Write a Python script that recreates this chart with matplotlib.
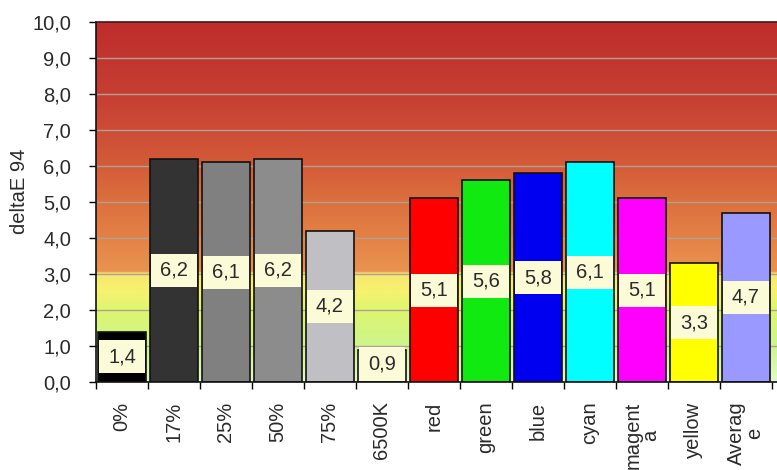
import matplotlib.pyplot as plt
import numpy as np
from matplotlib.colors import LinearSegmentedColormap
from matplotlib.patches import Rectangle

categories = ["0%", "17%", "25%", "50%", "75%", "6500K", "red", "green",
              "blue", "cyan", "magent\na", "yellow", "Averag\ne"]
delta_e = [1.4, 6.2, 6.1, 6.2, 4.2, 0.9, 5.1, 5.6, 5.8, 6.1, 5.1, 3.3, 4.7]
bar_colors = ["#000000", "#333333", "#808080", "#8c8c8c", "#bfbfc4", "#ffffff",
              "#ff0000", "#10ea10", "#0000f0", "#00ffff", "#ff00ff", "#ffff00",
              "#9999ff"]

# background bands: green (good) -> yellow -> orange -> red (bad)
bg_stops = [
    (0.00, (226, 250, 200)),
    (0.10, (205, 245, 140)),
    (0.20, (222, 246, 110)),
    (0.25, (246, 242, 112)),
    (0.30, (246, 232, 110)),
    (0.305, (234, 148, 80)),
    (0.40, (228, 130, 70)),
    (0.50, (220, 112, 62)),
    (0.60, (212, 92, 56)),
    (0.70, (205, 76, 54)),
    (0.80, (198, 62, 50)),
    (1.00, (190, 45, 45)),
]


def fmt(v):
    return f"{v:.1f}".replace(".", ",")


def main():
    plt.rcParams["font.family"] = ["Liberation Sans", "DejaVu Sans"]
    fs = 14.5
    txt = "#2a2a2a"

    fig = plt.figure(figsize=(7.77, 4.70), dpi=100)
    ax = fig.add_axes([96 / 777, 1 - 382 / 470, 681 / 777, 360 / 470])

    xmin, xmax = -0.5, 12.6
    cmap = LinearSegmentedColormap.from_list(
        "bg", [(p, tuple(c / 255 for c in rgb)) for p, rgb in bg_stops])
    grad = np.linspace(0, 1, 500).reshape(-1, 1)
    ax.imshow(grad, cmap=cmap, origin="lower", aspect="auto",
              extent=(xmin, xmax, 0, 10), zorder=0)

    for yv in range(1, 10):
        ax.axhline(yv, color="#b0a098", lw=1.0, zorder=1)

    x = np.arange(len(categories))
    width = 0.93
    ax.bar(x, delta_e, width=width, color=bar_colors, edgecolor="#111111",
           linewidth=1.2, zorder=2)

    # value boxes in the middle of each bar
    box_h = 0.92
    for xi, v in zip(x, delta_e):
        yc = max(v / 2, 0.5)
        ax.add_patch(Rectangle((xi - width / 2 + 0.02, yc - box_h / 2),
                               width - 0.04, box_h, facecolor="#fbfbd8",
                               edgecolor="none", zorder=3))
        ax.text(xi, yc, fmt(v), ha="center", va="center", fontsize=fs,
                color=txt, zorder=4)

    ax.set_xlim(xmin, xmax)
    ax.set_ylim(0, 10)
    ax.set_yticks(np.arange(0, 11, 1))
    ax.set_yticklabels([fmt(t) for t in np.arange(0, 11, 1)], fontsize=fs,
                       color=txt)
    ax.tick_params(axis="y", direction="out", length=5, pad=13, width=1)

    ax.set_xticks(x)
    ax.set_xticklabels(categories, rotation=90, fontsize=fs, color=txt,
                       va="top", ha="center", linespacing=0.95)
    ax.tick_params(axis="x", which="major", length=0, pad=14)
    ax.set_xticks(np.arange(-0.5, 13, 1), minor=True)
    ax.tick_params(axis="x", which="minor", direction="out", length=5, width=1)

    ax.set_ylabel("deltaE 94", fontsize=fs, color=txt)
    ax.yaxis.set_label_coords(-0.098, 0.53)

    ax.spines["right"].set_visible(False)
    ax.spines["top"].set_color("#4a1414")
    ax.spines["left"].set_color("#111111")
    ax.spines["bottom"].set_color("#111111")
    for s in ("top", "left", "bottom"):
        ax.spines[s].set_linewidth(1.2)

    fig.savefig("out.png", dpi=100)


if __name__ == "__main__":
    main()
